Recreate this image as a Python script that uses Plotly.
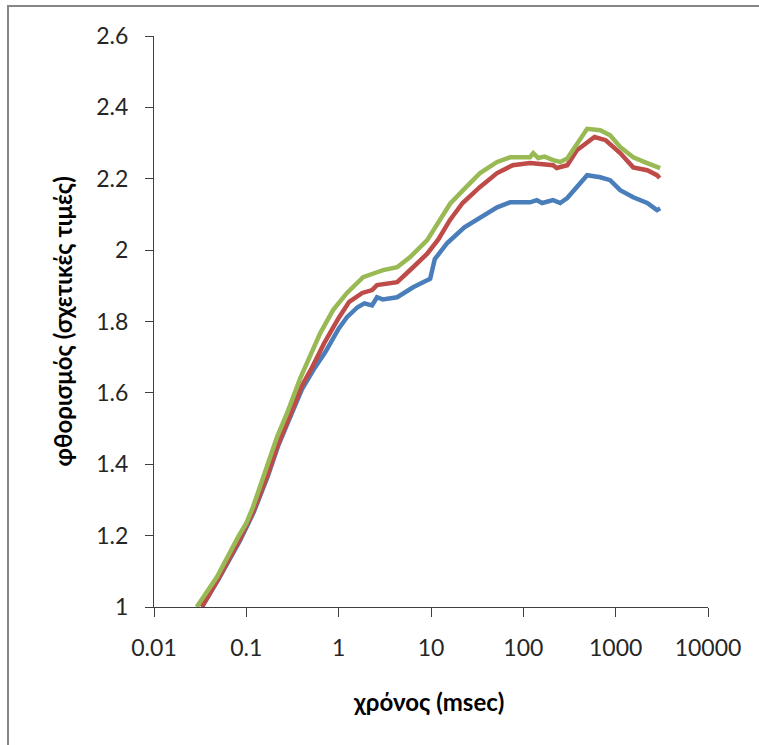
import plotly.graph_objects as go

# Data
green_x = [0.029, 0.048, 0.083, 0.1, 0.118, 0.168, 0.215, 0.276, 0.382, 0.63, 0.87, 1.23, 1.84, 2.6, 3.03, 4.3,
           5.9, 9.1, 12.6, 16.1, 22.3, 34, 52, 72, 118, 128, 145, 170, 210, 251, 299, 491, 680, 871, 1119,
           1549, 2195, 2600, 3033]
green_y = [1.0, 1.084, 1.2, 1.235, 1.28, 1.39, 1.476, 1.543, 1.64, 1.767, 1.832, 1.88, 1.924, 1.938, 1.944, 1.952,
           1.98, 2.028, 2.084, 2.13, 2.168, 2.216, 2.247, 2.26, 2.26, 2.272, 2.258, 2.262, 2.252, 2.247, 2.257,
           2.34, 2.336, 2.322, 2.289, 2.26, 2.244, 2.238, 2.23]

red_x = [0.033, 0.05, 0.085, 0.1, 0.12, 0.17, 0.22, 0.28, 0.4, 0.5, 0.7, 1.0, 1.3, 1.8, 2.3, 2.6, 4.3, 6.4,
         9.1, 12, 16, 22, 34, 52, 77, 118, 210, 230, 299, 380, 590, 780, 1119, 1549, 2195, 2800, 3000]
red_y = [1.0, 1.08, 1.19, 1.225, 1.27, 1.37, 1.455, 1.52, 1.62, 1.665, 1.74, 1.81, 1.855, 1.88, 1.888, 1.902,
         1.91, 1.952, 1.99, 2.03, 2.084, 2.132, 2.177, 2.216, 2.238, 2.244, 2.238, 2.23, 2.238, 2.28, 2.317,
         2.308, 2.272, 2.232, 2.224, 2.21, 2.202]

blue_x = [0.033, 0.05, 0.085, 0.1, 0.12, 0.17, 0.22, 0.28, 0.4, 0.55, 0.72, 1.0, 1.23, 1.6, 1.9, 2.3, 2.6,
          3.0, 4.3, 6.4, 9.1, 9.8, 11, 15, 23, 34, 52, 72, 118, 140, 160, 210, 251, 299, 491, 680, 871,
          1119, 1549, 2195, 2800, 3033]
blue_y = [1.0, 1.078, 1.185, 1.222, 1.265, 1.365, 1.45, 1.515, 1.61, 1.67, 1.715, 1.78, 1.812, 1.84, 1.851,
          1.845, 1.868, 1.862, 1.868, 1.896, 1.916, 1.92, 1.975, 2.02, 2.064, 2.092, 2.12, 2.134, 2.134, 2.14,
          2.132, 2.14, 2.132, 2.146, 2.21, 2.204, 2.196, 2.168, 2.148, 2.132, 2.112, 2.117]

y_ticks = [1, 1.2, 1.4, 1.6, 1.8, 2, 2.2, 2.4, 2.6]
y_tick_labels = ["1", "1.2", "1.4", "1.6", "1.8", "2", "2.2", "2.4", "2.6"]
x_ticks = [0.01, 0.1, 1, 10, 100, 1000, 10000]
x_tick_labels = ["0.01", "0.1", "1", "10", "100", "1000", "10000"]

fig = go.Figure()
for xs, ys, col in [(blue_x, blue_y, "#4A7EBB"), (red_x, red_y, "#BE4B48"), (green_x, green_y, "#98B954")]:
    fig.add_trace(go.Scatter(x=xs, y=ys, mode="lines", line=dict(color=col, width=4.5), showlegend=False))

font_family = "Lato, Open Sans, sans-serif"
fig.update_layout(
    width=759, height=745,
    margin=dict(l=154, r=51, t=36, b=138),
    paper_bgcolor="white", plot_bgcolor="white",
    font=dict(family=font_family, size=23, color="#262626"),
)
fig.update_xaxes(type="log", range=[-2, 4], tickvals=x_ticks, ticktext=x_tick_labels,
                 showgrid=False, zeroline=False, showline=True, linecolor="#404040", linewidth=1,
                 ticks="outside", ticklen=9, tickcolor="#404040", ticklabelstandoff=11)
fig.update_yaxes(range=[1, 2.6], tickvals=y_ticks, ticktext=y_tick_labels,
                 showgrid=False, zeroline=False, showline=True, linecolor="#404040", linewidth=1,
                 ticks="outside", ticklen=8, tickcolor="#404040", ticklabelstandoff=12)

fig.add_annotation(text="<b>φθορισμός (σχετικές τιμές)</b>", textangle=-90, xref="paper", yref="paper",
                   x=-0.166, y=0.5, xanchor="center", yanchor="middle", showarrow=False,
                   font=dict(size=24, color="#000000"))
fig.add_annotation(text="<b>χρόνος (msec)</b>", xref="paper", yref="paper",
                   x=0.496, y=-0.166, xanchor="center", yanchor="middle", showarrow=False,
                   font=dict(size=24, color="#000000"))

# outer chart border (partially cropped)
fig.add_shape(type="rect", xref="paper", yref="paper", x0=-0.2635, y0=-0.4, x1=1.3, y1=1.0525,
              line=dict(color="#868686", width=2), layer="below")

fig.write_html("out.html")
